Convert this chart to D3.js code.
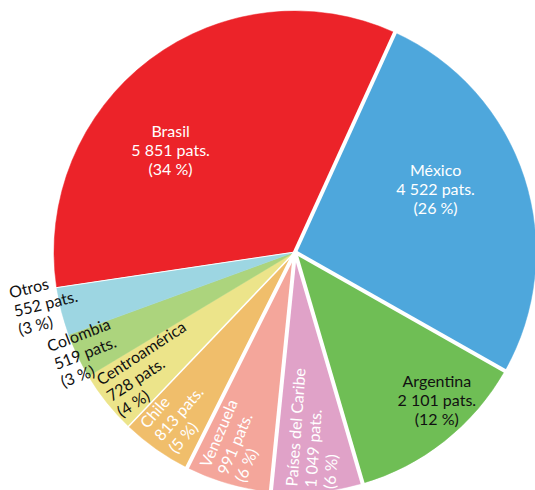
<!DOCTYPE html>
<html>
<head>
<meta charset="utf-8">
<script src="https://cdn.jsdelivr.net/npm/d3@7"></script>
<style>
  html, body { margin: 0; padding: 0; background: #fff; }
  svg { display: block; }
  text { font-family: Lato, "Open Sans", sans-serif; font-size: 16px; }
</style>
</head>
<body>
<svg id="chart" width="535" height="490"></svg>
<script>
// Patentes por país / región
const categories = ["Brasil", "México", "Argentina", "Países del Caribe", "Venezuela",
                    "Chile", "Centroamérica", "Colombia", "Otros"];
const patents = [5851, 4522, 2101, 1049, 991, 813, 728, 519, 552];
const shares = ["34 %", "26 %", "12 %", "6 %", "6 %", "5 %", "4 %", "3 %", "3 %"];

const sliceColors = ["#ec2329", "#4ea7dc", "#6fbe55", "#e0a2c8", "#f4a69b",
                     "#f0be6b", "#ece48a", "#acd47d", "#9dd6e2"];
const textColors = ["#fff", "#fff", "#111", "#fff", "#fff", "#fff", "#111", "#111", "#111"];

// label placement: angle shift from slice middle (deg), radius, text rotation (deg)
// horizontal labels are centred on the point; rotated ones start at it (middle line baseline)
const labelLayout = [
  { shift: -13.6, r: 161, rot: 0 },
  { shift: -6.1, r: 154, rot: 0 },
  { shift: -5.4, r: 205, rot: 0 },
  { shift: 0.1, r: 237, rot: -86 },
  { shift: 0.6, r: 234, rot: -67 },
  { shift: -0.1, r: 232, rot: -49 },
  { shift: -0.6, r: 237, rot: -33 },
  { shift: -0.8, r: 266, rot: -21 },
  { shift: 1.2, r: 287, rot: -14 }
];
// white separator width after each slice (clockwise)
const separatorWidth = [4, 4, 4, 4, 4, 1.5, 0, 0, 1];

const cx = 295, cy = 252, radius = 241;
const deg = Math.PI / 180;
const start = -98.5 * deg;

const fmt = d3.formatLocale({ decimal: ",", thousands: " ", grouping: [3], currency: ["", ""] }).format(",d");

const data = categories.map((c, i) => ({ name: c, value: patents[i], share: shares[i], i }));

const pie = d3.pie().value(d => d.value).sort(null)
  .startAngle(start).endAngle(start + 2 * Math.PI);
const arcs = pie(data);
const arc = d3.arc().innerRadius(0).outerRadius(radius);

const svg = d3.select("#chart");
const g = svg.append("g").attr("transform", `translate(${cx},${cy})`);

g.selectAll("path.slice").data(arcs).join("path")
  .attr("class", "slice")
  .attr("d", arc)
  .attr("fill", d => sliceColors[d.data.i])
  .attr("stroke", d => sliceColors[d.data.i])
  .attr("stroke-width", 0.5);

// separators between slices
g.selectAll("line.sep").data(arcs.filter(d => separatorWidth[d.data.i] > 0)).join("line")
  .attr("class", "sep")
  .attr("x1", 0).attr("y1", 0)
  .attr("x2", d => d3.pointRadial(d.endAngle, radius + 4)[0])
  .attr("y2", d => d3.pointRadial(d.endAngle, radius + 4)[1])
  .attr("stroke", "#fff")
  .attr("stroke-width", d => separatorWidth[d.data.i]);

// labels
const lineH = 19;
const labels = g.selectAll("g.label").data(arcs).join("g")
  .attr("class", "label")
  .attr("transform", d => {
    const L = labelLayout[d.data.i];
    const a = (d.startAngle + d.endAngle) / 2 + L.shift * deg;
    const [x, y] = d3.pointRadial(a, L.r);
    return `translate(${x},${y}) rotate(${L.rot})`;
  });

labels.each(function (d) {
  const L = labelLayout[d.data.i];
  const horizontal = L.rot === 0;
  const lines = [d.data.name, `${fmt(d.data.value)} pats.`, `(${d.data.share})`];
  const t = d3.select(this).append("text")
    .attr("text-anchor", horizontal ? "middle" : "start")
    .attr("fill", textColors[d.data.i]);
  lines.forEach((s, k) => {
    t.append("tspan").attr("x", 0)
      .attr("y", (k - 1) * lineH + (horizontal ? 6 : 0))
      .text(s);
  });
});
</script>
</body>
</html>
